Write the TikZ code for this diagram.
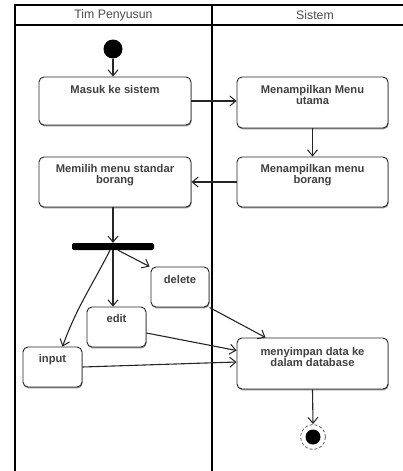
\documentclass[tikz,border=0pt]{standalone}
\usepackage{fontspec}
\setmainfont{Liberation Sans}
\usetikzlibrary{arrows.meta,shadows}
\begin{document}
\begin{tikzpicture}[x=1pt,y=-1pt,
  lane/.style={line width=2.7pt, draw=black, line cap=rect},
  act/.style={draw=black!85, line width=0.9pt, rounded corners=5pt, fill=white, inner sep=0pt,
    drop shadow={shadow xshift=0.6pt, shadow yshift=-1.3pt, fill=black!45, opacity=1}},
  txt/.style={font=\fontsize{11.2}{11}\selectfont\bfseries, text=black!75, align=center, inner sep=0pt, anchor=north},
  hdr/.style={font=\fontsize{12.3}{13}\selectfont, text=black!70},
  flow/.style={draw=black!85, line width=1.1pt, -{Straight Barb[length=6pt,width=10pt,line width=1pt]}},
]
\useasboundingbox (0,0) rectangle (403,471);
% swimlanes
\draw[lane] (15,5) -- (405,5);
\draw[lane] (15,25) -- (405,25);
\draw[lane] (15,5) -- (15,470);
\draw[lane] (212,5) -- (212,470);
\node[hdr] (h1) at (113.5,15) {Tim Penyusun};
\node[hdr] (h2) at (315,15) {Sistem};
% nodes
\node[circle, fill=black, minimum size=19pt, inner sep=0pt] (start) at (113,49) {};
\node[act, minimum width=152pt, minimum height=48pt,
  label={[txt, yshift=-9pt]north:Masuk ke sistem}] (masuk) at (115,101) {};
\node[act, minimum width=151pt, minimum height=51pt,
  label={[txt, yshift=-9pt]north:Menampilkan Menu\\utama}] (utama) at (312.5,102.5) {};
\node[act, minimum width=151pt, minimum height=50pt,
  label={[txt, yshift=-7.5pt]north:Menampilkan menu\\borang}] (borang) at (312.5,182) {};
\node[act, minimum width=152pt, minimum height=50pt,
  label={[txt, yshift=-8pt]north:Memilih menu standar\\borang}] (memilih) at (115,182) {};
\node[fill=black, rounded corners=2pt, minimum width=82pt, minimum height=7pt, inner sep=0pt] (bar) at (113,246.5) {};
\node[act, minimum width=58pt, minimum height=40pt,
  label={[txt, yshift=-9pt]north:delete}] (delete) at (180,287) {};
\node[act, minimum width=59pt, minimum height=40pt,
  label={[txt, yshift=-8pt]north:edit}] (edit) at (116.5,327) {};
\node[act, minimum width=59pt, minimum height=40pt,
  label={[txt, yshift=-8pt]north:input}] (input) at (52.5,367) {};
\node[act, minimum width=151pt, minimum height=51pt,
  label={[txt, yshift=-10pt]north:menyimpan data ke\\dalam database}] (simpan) at (312.5,363.5) {};
\node[circle, draw=black!55, densely dashed, line width=0.9pt, minimum size=25pt, inner sep=0pt] (end) at (313,437) {};
\node[circle, fill=black, minimum size=15pt, inner sep=0pt] (endin) at (end) {};
% connectors
\draw[flow] (start) -- (start |- masuk.north);
\draw[flow] (masuk) -- (masuk -| utama.west);
\draw[flow] (utama.south) -- (borang.north);
\draw[flow] (borang.west) -- (memilih.east);
\draw[flow] (memilih.south -| bar) -- (bar.north);
\draw[flow] ([xshift=5pt]bar.south) -- ([xshift=-1pt]delete.north west);
\draw[flow] (bar.south) -- (bar.south |- edit.north);
\draw[flow] ([xshift=-3pt]bar.south) to[out=-117, in=70] ([xshift=10pt]input.north);
\draw[flow] (delete.south east) -- ([xshift=29pt]simpan.north west);
\draw[flow] ([yshift=-6pt]edit.east) -- ([yshift=13pt]simpan.west);
\draw[flow] (input.east) -- ([yshift=1.5pt]simpan.west);
\draw[flow] (simpan.south) -- (end.north);
\end{tikzpicture}
\end{document}
